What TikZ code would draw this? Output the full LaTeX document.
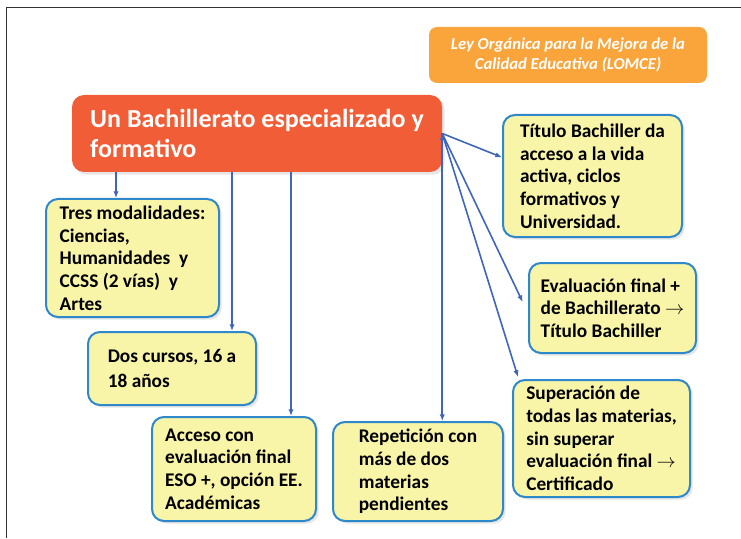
\documentclass[tikz,border=0pt]{standalone}
\usepackage{fontspec}
\setmainfont{Carlito}
\usetikzlibrary{arrows.meta,shadows}

\definecolor{lomceorange}{HTML}{F9A53B}
\definecolor{titlered}{HTML}{F15D36}
\definecolor{boxyellow}{HTML}{F8F4A8}
\definecolor{boxblue}{HTML}{2E88C9}
\definecolor{linkblue}{HTML}{3F66B8}

\begin{document}
\begin{tikzpicture}[x=0.75pt,y=-0.75pt,>={Latex[length=5pt,width=4pt]},
    box/.style={draw=boxblue,line width=1.5pt,fill=boxyellow,rounded corners=9pt,
      align=left,font=\fontsize{14.5}{17}\selectfont\bfseries,
      drop shadow={shadow xshift=2pt,shadow yshift=-2pt,opacity=0.2}},
    banner/.style={fill=lomceorange,rounded corners=6pt,align=center,text=white,
      font=\fontsize{12.5}{14.5}\selectfont\bfseries\itshape},
    headline/.style={fill=titlered,rounded corners=9pt,align=left,text=white,
      font=\fontsize{19.5}{23}\selectfont\bfseries,
      drop shadow={shadow xshift=2pt,shadow yshift=-2pt,opacity=0.2}},
    link/.style={draw=linkblue,line width=1.2pt}]
  \useasboundingbox (0,0) rectangle (741,538);
  \draw[line width=0.75pt,black!80] (6,538) -- (6,8) -- (741,8);

  \node[banner,minimum width=208.5pt,minimum height=42pt] (lomce) at (568,55)
    {Ley Orgánica para la Mejora de la\\Calidad Educativa (LOMCE)};
  \node[headline,minimum width=277.5pt,minimum height=57.75pt] (main) at (257,133.5)
    {Un Bachillerato especializado y\\formativo};

  \node[box,minimum width=129.75pt,minimum height=88.5pt] (tres) at (132.5,258)
    {Tres modalidades:\\Ciencias,\\Humanidades\ \ y\\CCSS (2 vías)\ \ y\\Artes};
  \node[box,minimum width=126pt,minimum height=54.75pt,
    font=\fontsize{14.5}{19}\selectfont\bfseries] (dos) at (172,368.5)
    {Dos cursos, 16 a\\18 años};
  \node[box,minimum width=123pt,minimum height=78pt] (acceso) at (234,469)
    {Acceso con\\evaluación final\\ESO +, opción EE.\\Académicas};
  \node[box,minimum width=127.5pt,minimum height=74.25pt] (rep) at (418,471.5)
    {Repetición con\\más de dos\\materias\\pendientes};
  \node[box,minimum width=134.25pt,minimum height=91.5pt] (titulo) at (592.5,176)
    {Título Bachiller da\\acceso a la vida\\activa, ciclos\\formativos y\\Universidad.};
  \node[box,minimum width=125.25pt,minimum height=67.5pt] (eval) at (612.5,308)
    {Evaluación final +\\de Bachillerato $\rightarrow$\\Título Bachiller};
  \node[box,minimum width=132.75pt,minimum height=87.75pt] (sup) at (601.5,438.5)
    {Superación de\\todas las materias,\\sin superar\\evaluación final $\rightarrow$\\Certificado};

  \path[->,link]
    (116,0 |- main.south) edge (116,0 |- tres.north)
    (232,0 |- main.south) edge (232,0 |- dos.north)
    (291,0 |- main.south) edge (291,0 |- acceso.north)
    (main.east) edge (main.east |- rep.north)
    (main.east) edge ([yshift=14pt]titulo.west)
    (main.east) edge ([xshift=-4pt,yshift=4.5pt]eval.west)
    (main.east) edge ([xshift=4.5pt,yshift=1.5pt]sup.north west);
\end{tikzpicture}
\end{document}
